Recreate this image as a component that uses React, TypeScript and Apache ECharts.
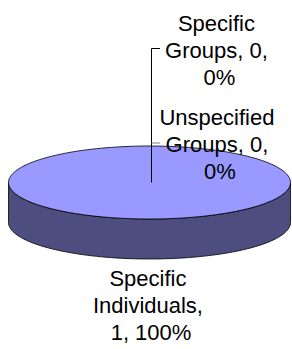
import React, { useEffect, useRef } from "react";
import * as echarts from "echarts";

const categories = ["Specific Groups", "Unspecified Groups", "Specific Individuals"];
const values = [0, 0, 1];

const topColor = "#9999ff";
const sideColor = "#4d4d80";

// layout of the pseudo-3D pie
const pie = { cx: 149.5, cy: 182.5, rx: 141, ry: 36.5, depth: 40 };
// label block anchors (top-centre of each text block)
const labelLayout = [
  { x: 219.5, y: 10, leader: [[160, 48.5], [151.5, 48.5]], leaderColor: "#000000", toCenter: true },
  { x: 220, y: 104, leader: [[160, 143], [151.5, 143]], leaderColor: "#808080", toCenter: false },
  { x: 151, y: 265, leader: null, leaderColor: "#000000", toCenter: false },
];

export default function App() {
  const ref = useRef<HTMLDivElement>(null);
  useEffect(() => {
    if (!ref.current) return;
    const chart = echarts.init(ref.current, null, { renderer: "svg" });
    const total = values.reduce((a, b) => a + b, 0);
    const starts: number[] = [];
    let acc = 0;
    values.forEach((v) => {
      starts.push(acc);
      acc += v;
    });
    const pt = (a: number, dy = 0) => [pie.cx + pie.rx * Math.cos(a), pie.cy + pie.ry * Math.sin(a) + dy];
    const arc = (a0: number, a1: number, dy = 0) => {
      const n = Math.max(2, Math.ceil(((a1 - a0) / (Math.PI * 2)) * 180));
      const pts: number[][] = [];
      for (let i = 0; i <= n; i++) pts.push(pt(a0 + ((a1 - a0) * i) / n, dy));
      return pts;
    };

    const renderItem = (params: any, api: any) => {
      const i = params.dataIndex;
      const v = api.value(0);
      const a0 = -Math.PI / 2 + (starts[i] / total) * Math.PI * 2;
      const a1 = -Math.PI / 2 + ((starts[i] + v) / total) * Math.PI * 2;
      const children: any[] = [];
      const stroke = { stroke: "#000", lineWidth: 0.8 };
      if (v > 0) {
        // visible front side
        for (let k = -1; k <= 1; k++) {
          const s = Math.max(a0, k * 2 * Math.PI);
          const e = Math.min(a1, k * 2 * Math.PI + Math.PI);
          if (e > s) {
            const topPts = arc(s, e);
            const botPts = arc(s, e, pie.depth).reverse();
            children.push({
              type: "polygon",
              shape: { points: topPts.concat(botPts) },
              style: { fill: sideColor, ...stroke },
              z2: 1,
            });
          }
        }
        const full = a1 - a0 >= Math.PI * 2 - 1e-6;
        const pts = full ? arc(a0, a1) : [[pie.cx, pie.cy]].concat(arc(a0, a1));
        children.push({
          type: "polygon",
          shape: { points: pts },
          style: { fill: topColor, ...stroke },
          z2: 2,
        });
      }
      const pct = Math.round((v / total) * 100);
      const lay = labelLayout[i];
      children.push({
        type: "text",
        x: lay.x,
        y: lay.y,
        z2: 10,
        style: {
          text: `${categories[i]}, ${v}, ${pct}%`,
          fill: "#000",
          fontFamily: "Liberation Sans, Arial, sans-serif",
          fontSize: 22,
          lineHeight: 27,
          align: "center",
          verticalAlign: "top",
          width: 124,
          overflow: "break",
        },
      });
      if (lay.leader) {
        const mid = (a0 + a1) / 2;
        const pts = lay.leader.slice();
        if (lay.toCenter) pts.push([pie.cx + 2, pie.cy]);
        children.push({
          type: "polyline",
          shape: { points: pts },
          style: { stroke: lay.leaderColor, lineWidth: 1, fill: "none" },
          z2: 9,
        });
        void mid;
      }
      return { type: "group", children };
    };

    chart.setOption({
      animation: false,
      backgroundColor: "#ffffff",
      series: [
        {
          type: "custom",
          coordinateSystem: "none",
          renderItem,
          data: values.map((v, i) => [v, i]),
        },
      ],
    });
    return () => chart.dispose();
  }, []);
  return <div ref={ref} style={{ position: "fixed", left: 0, top: 0, width: 292, height: 349 }} />;
}
